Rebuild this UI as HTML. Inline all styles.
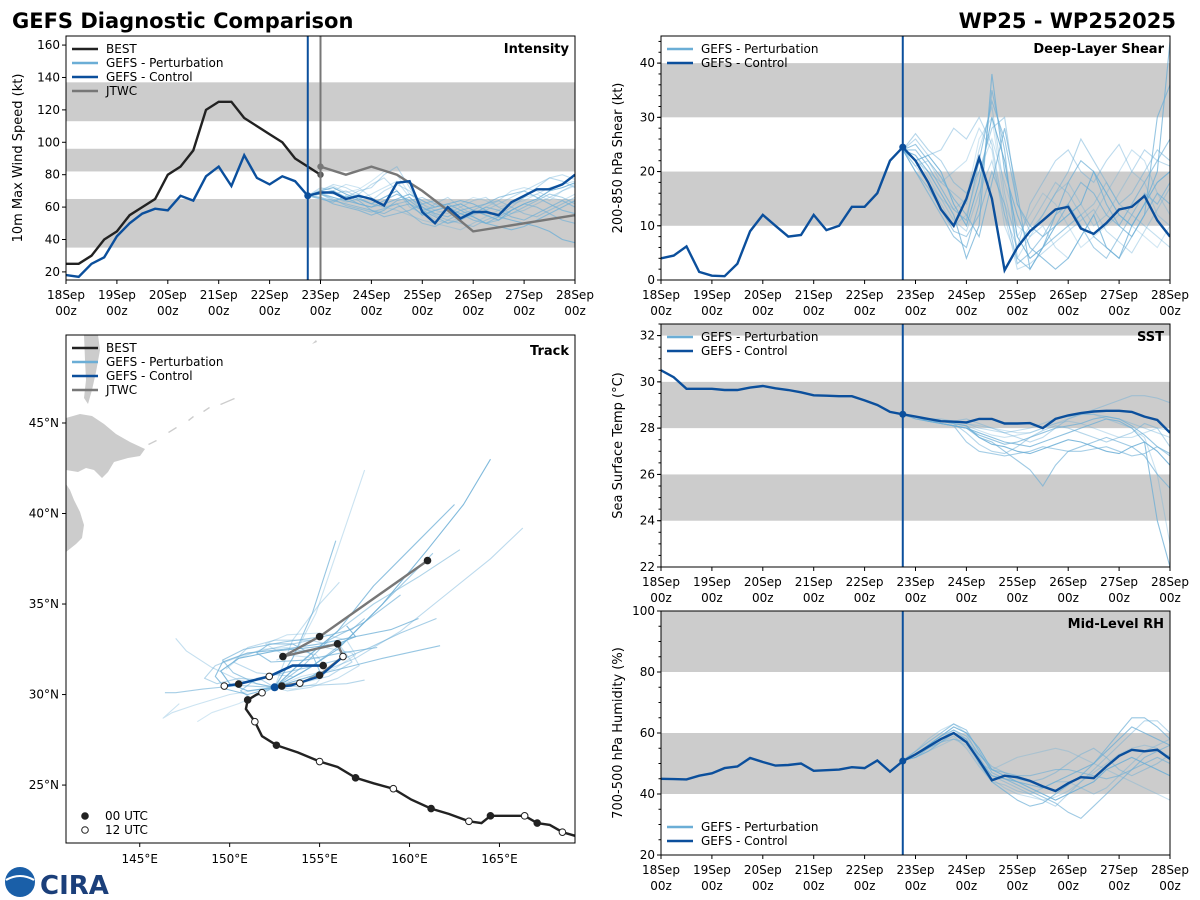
<!DOCTYPE html>
<html><head><meta charset="utf-8"><title>GEFS Diagnostic Comparison</title>
<style>
body{margin:0;background:#fff;font-family:"Liberation Sans",sans-serif;}
svg{display:block}
text{font-family:"DejaVu Sans","Liberation Sans",sans-serif;}
</style></head>
<body>
<svg id="chart" width="1200" height="900" xmlns="http://www.w3.org/2000/svg">
<text x="12" y="28" font-size="21" font-weight="bold" fill="#000">GEFS Diagnostic Comparison</text>
<text x="1176" y="28" font-size="21" font-weight="bold" fill="#000" text-anchor="end">WP25 - WP252025</text>
<g>
<circle cx="20" cy="882" r="15" fill="#1a5fa8"/>
<path d="M6 880 Q20 872 34 880" stroke="#fff" stroke-width="2" fill="none"/>
<text x="40" y="894" font-size="26" font-weight="bold" fill="#1b3f7a" font-family="Liberation Serif,serif">CIRA</text>
</g>
</svg>
<script>
// ---------- data ----------
const dayLabels=["18Sep","19Sep","20Sep","21Sep","22Sep","23Sep","24Sep","25Sep","26Sep","27Sep","28Sep"];
const bestIntensity=[25,25,30,40,45,55,60,65,80,85,95,120,125,125,115,110,105,100,90,85,80];
const controlIntensity=[18,17,25,29,42,50,56,59,58,67,64,79,85,73,92,78,74,79,76,67,69,69,65,67,65,61,75,76,57,50,60,53,57,57,55,63,67,71,71,74,80];
const jtwcTimes=[20,22,24,26,28,30,32,40];
const jtwcIntensity=[85,80,85,80,70,58,45,55];
const pertIntensity=[
[67,70,72,68,65,62,66,70,62,55,58,60,62,58,55,52,58,62,65,70,72,75],
[67,68,64,66,70,72,80,85,72,60,55,52,50,48,52,55,60,66,72,78,76,72],
[67,66,62,60,58,55,58,64,66,60,56,54,58,60,62,66,68,70,66,62,58,56],
[67,69,70,74,72,66,60,58,55,52,50,48,46,50,54,58,62,64,68,72,74,76],
[67,68,66,64,62,60,62,65,68,64,60,62,64,62,58,54,52,50,48,45,40,38],
[67,70,74,72,68,64,70,74,70,62,58,56,60,64,66,60,56,58,62,66,70,74],
[67,66,64,62,60,58,54,56,58,62,64,60,56,52,50,54,58,62,60,56,52,50],
[67,69,66,63,65,68,72,76,66,58,52,50,54,56,60,64,70,72,70,66,64,68],
[67,68,70,66,62,60,64,68,64,58,60,62,58,54,50,48,46,48,52,56,60,64],
[67,70,68,70,66,62,60,62,64,66,62,58,56,58,62,64,60,56,54,58,62,66],
[67,72,70,66,68,74,78,70,60,56,62,66,60,55,58,62,66,70,74,78,80,77],
[67,65,63,67,64,58,56,60,62,58,54,50,52,56,60,58,54,52,56,60,64,60],
[67,71,73,69,71,76,82,80,68,62,56,58,62,66,64,60,62,66,68,64,70,73],
[67,68,65,61,59,57,59,62,56,50,48,52,56,54,50,52,56,60,64,68,66,62]];
const controlShear=[4,4.5,6.2,1.5,0.8,0.7,3,9,12,10,8,8.3,12,9.2,10,13.5,13.5,16,22,24.5,22,18,13,10,15,22.5,15,1.8,6,9,11,13,13.5,9.5,8.5,10.5,13,13.5,15.5,11,8];
const pertShear=[
[24,22,23,20,14,10,18,30,22,8,4,6,10,12,14,20,16,12,10,14,18,20],
[24,26,23,24,28,26,30,25,12,6,14,18,22,24,20,18,22,25,20,24,22,21],
[24,20,16,12,8,6,14,35,24,4,2,6,8,10,12,8,6,4,8,12,16,14],
[24,22,18,14,10,12,20,26,18,10,8,12,16,18,14,10,12,16,20,18,12,10],
[24,23,20,16,12,4,10,38,20,12,6,4,2,4,8,12,6,4,10,14,20,44],
[24,21,22,18,16,14,24,32,16,6,10,14,18,16,12,14,18,14,12,10,8,6],
[24,20,17,13,9,8,12,20,14,3,5,8,12,14,10,6,4,8,12,16,14,18],
[24,22,20,18,20,22,28,24,10,4,8,10,6,4,8,12,16,20,24,22,16,12],
[24,25,22,19,15,12,8,18,28,16,2,6,12,18,22,20,14,10,8,12,30,36],
[24,27,24,22,18,16,20,28,30,14,9,12,16,20,26,22,18,14,16,20,24,22],
[24,21,18,15,11,9,16,22,12,2,3,5,7,9,11,13,9,7,5,9,13,17],
[24,24,21,17,13,11,22,33,26,14,10,8,10,14,18,16,12,10,14,18,22,26],
[24,23,19,15,13,15,26,30,14,8,12,16,14,10,6,8,10,12,10,8,6,10]];
const controlSST=[30.5,30.2,29.7,29.7,29.7,29.65,29.65,29.75,29.82,29.72,29.65,29.55,29.42,29.4,29.38,29.38,29.2,29.0,28.7,28.6,28.5,28.4,28.3,28.28,28.25,28.4,28.4,28.2,28.2,28.22,28.0,28.4,28.55,28.65,28.72,28.75,28.75,28.7,28.5,28.35,27.8];
const pertSST=[
[28.6,28.5,28.4,28.3,28.2,28.1,27.6,27.3,27.2,27.0,26.9,27.1,27.3,27.5,27.4,27.2,27.0,26.9,27.2,27.4,27.0,26.4],
[28.6,28.5,28.4,28.3,28.3,28.4,28.2,28.0,27.8,27.6,27.4,27.6,28.0,28.4,28.6,28.8,29.0,29.2,29.4,29.4,29.3,29.1],
[28.6,28.5,28.3,28.2,28.1,28.0,27.6,27.4,27.0,26.6,26.2,25.5,26.4,27.0,27.2,27.4,27.6,27.4,27.2,26.8,26.0,25.4],
[28.6,28.5,28.4,28.3,28.3,28.2,28.1,28.0,27.9,27.8,27.8,28.0,28.2,28.4,28.6,28.6,28.4,28.2,28.0,27.6,26.0,23.0],
[28.6,28.4,28.3,28.2,28.1,28.0,27.8,27.6,27.4,27.3,27.2,27.4,27.6,27.8,28.0,28.2,28.4,28.3,28.0,27.4,24.0,22.0],
[28.6,28.5,28.4,28.4,28.3,28.2,28.0,27.9,27.8,27.9,28.0,28.2,28.4,28.5,28.6,28.6,28.5,28.4,28.2,28.0,27.8,27.6],
[28.6,28.5,28.3,28.2,28.1,27.4,27.0,26.9,26.8,26.9,27.0,27.2,27.1,27.0,27.0,27.1,27.2,27.0,26.8,26.9,27.2,26.8],
[28.6,28.5,28.4,28.3,28.2,28.1,27.9,27.7,27.6,27.7,27.8,28.0,28.2,28.3,28.2,28.0,27.8,27.6,27.6,27.8,28.0,27.9],
[28.6,28.5,28.4,28.2,28.1,28.0,27.7,27.5,27.3,27.4,27.6,27.8,28.0,28.1,28.2,28.4,28.5,28.4,28.1,27.7,27.2,26.9],
[28.6,28.4,28.3,28.3,28.2,27.8,27.3,27.0,26.9,27.2,27.6,27.9,28.1,28.0,27.8,27.6,27.4,27.6,27.8,28.2,28.0,27.2]];
const controlRH=[45,44.9,44.8,46,46.8,48.5,49,51.8,50.5,49.3,49.5,50,47.6,47.8,48,48.8,48.5,51,47.3,50.8,53,55.5,58,60,57,51,44.5,46,45.5,44.3,42.5,41,43.5,45.5,45.2,49,52.5,54.5,54,54.5,51.5];
const pertRH=[
[51,53,56,59,62,60,55,48,46,44,42,40,38,40,42,44,48,50,52,50,48,46],
[51,52,55,58,61,58,52,46,44,42,40,38,36,40,44,48,52,56,60,64,64,60],
[51,54,57,60,63,61,54,47,45,43,41,39,37,34,32,36,40,44,48,52,54,56],
[51,52,54,56,58,56,50,48,50,52,53,54,55,54,52,50,48,46,44,42,40,38],
[51,53,56,58,60,57,51,46,45,44,43,42,44,46,48,50,54,58,62,60,58,56],
[51,52,55,57,59,55,49,44,43,41,40,42,44,44,42,40,42,46,50,54,56,58],
[51,53,56,59,61,59,53,48,47,46,46,47,48,48,47,46,45,46,48,50,52,50],
[51,54,58,61,63,60,52,45,42,40,39,38,39,41,44,47,50,53,55,56,55,52],
[51,52,54,57,60,58,50,44,41,38,36,37,40,43,46,50,55,60,65,65,62,58],
[51,53,55,57,58,57,53,49,47,45,44,45,47,50,53,55,52,48,46,48,50,53]];
// track data (lon, lat)
const bestTrackLon=[169.2,168.5,167.8,167.1,166.4,165.5,164.5,164,163.3,162.2,161.2,160.1,159.1,158,157,156,155,153.8,152.6,151.8,151.4,150.9,151.0,151.5,151.8];
const bestTrackLat=[22.2,22.4,22.8,22.9,23.3,23.3,23.3,22.9,23.0,23.4,23.7,24.2,24.8,25.1,25.4,26.0,26.3,26.8,27.2,27.7,28.5,29.2,29.7,30.0,30.1];
const bestMarkIdx=[1,3,4,6,8,10,12,14,16,18,20,22,24];
const bestMarkType=[12,0,12,0,12,0,12,0,12,0,12,0,12];
const jtwcTrackLon=[152.9,153.9,155.0,156.3,156.0,152.96,155.0,161.0];
const jtwcTrackLat=[30.47,30.63,31.07,32.1,32.8,32.1,33.2,37.4];
const jtwcMarkType=[0,12,0,12,0,0,0,0];
const controlTrackLon=[149.7,150.5,152.2,153.5,155.2];
const controlTrackLat=[30.47,30.58,31.0,31.6,31.6];
const controlTrack2Lon=[152.5,153.4,155.0,156.2];
const controlTrack2Lat=[30.4,30.5,31.0,32.0];
const pertTrackLon=[
[152.5,154,156,158.5,161,163,164.5],
[152.5,154.5,157,159.5,162,164.5,166.3],
[152.5,154.5,156.5,158.5,160,161.3],
[152.5,153.5,154.8,156,157.5],
[152.5,154,156,158,160.5,162.5],
[152.5,150.5,149,147.6,147.0],
[152.5,150.5,148.5,147.0,146.4],
[152.5,150,148,146.8,146.3,147.2],
[152.5,154.5,156.5,158.5,161.7],
[152.5,154.5,156.5,157.5],
[152.5,153.5,155,156.1],
[152.5,154,155.5,157.5,159.5],
[152.5,150.5,149,148.2],
[152.5,154.2,156,158,160.5,162.8],
[152.5,153.5,154.6,155.9],
[152.5,151,150,149.5,150.5,152.5,154.5,156,157,156.5],
[152.5,153.8,155.5,156.8,156.2,154.5,152.5,151,150.2,151.5,153.5],
[152.5,151.5,150.2,149.6,150.8,153,155.2,156.8,157.5],
[152.5,154,155.8,157,156.5,155,153.2,152,153,155],
[152.5,151,149.8,149.2,149.6,151,153,155,157,159,160.5],
[152.5,153.2,154.5,156,157.2,156.8,155.3,153.8,152.6],
[152.5,151.2,150.6,151.5,153,154.8,156.4,157.8,159.5,161.5],
[152.5,153.5,154.8,155.5,154.8,153.2,151.8,150.5,149.8],
[152.5,154,155,154.6,153.5,152.2,151.5,152.3,154.2,156.2,158.2],
[152.5,151.8,150.5,149.3,148.6,149.2,150.8,152.6,154.5]];
const pertTrackLat=[
[30.4,31.2,32.5,35,38,40.5,43.0],
[30.4,31.0,32,33.5,35.5,37.5,39.2],
[30.4,31.5,33,35,36.5,37.8],
[30.4,32,34.5,38,42.4],
[30.4,31.8,33.5,36,38.5,40.5],
[30.4,30.8,31.5,32.4,33.1],
[30.4,30.5,30.3,30.1,30.1],
[30.4,30.0,29.4,29.0,28.7,29.5],
[30.4,31.0,31.5,32.0,32.7],
[30.4,30.5,30.6,30.8],
[30.4,33.0,35,36.2],
[30.4,31.5,33,34,35.5],
[30.4,29.5,29,28.5],
[30.4,32,33.5,35,36.5,38],
[30.4,32,34.5,38.5],
[30.4,30.2,30.6,31.3,32.0,32.4,32.6,32.8,33.2,33.8],
[30.4,30.6,31.0,31.8,32.6,33.0,33.0,32.6,31.8,31.2,31.0],
[30.4,30.6,31.2,31.9,32.5,32.9,33.2,33.6,34.2],
[30.4,31.0,31.4,32.2,33.0,33.4,33.3,32.8,32.2,32.0],
[30.4,30.0,30.3,31.0,31.8,32.3,32.5,32.8,33.2,33.6,34.2],
[30.4,30.2,30.4,30.9,31.6,32.3,32.6,32.4,31.9],
[30.4,29.8,30.2,30.9,31.2,31.6,32.0,32.6,33.4,34.2],
[30.4,30.3,30.6,31.4,32.2,32.6,32.5,32.0,31.4],
[30.4,30.6,31.3,32.2,32.8,32.8,32.3,31.8,31.9,32.3,32.6],
[30.4,30.8,30.9,30.6,30.9,31.6,32.2,32.6,33.0]];

// ---------- helpers ----------
const NS="http://www.w3.org/2000/svg";
const svg=document.getElementById('chart');
function el(tag,attrs,parent){const e=document.createElementNS(NS,tag);for(const k in attrs)e.setAttribute(k,attrs[k]);(parent||svg).appendChild(e);return e;}
const CTRL="#0b4f9c",PERT="#6baed6",BESTC="#222",JTWCC="#777",BAND="#cccccc";
const pertOp=[0.85,0.45,0.65,0.35,0.75,0.4,0.6,0.35,0.7,0.5,0.4,0.65,0.3,0.55,0.7];

function timePanel(cfg){
  const {x0,x1,y0,y1,vmin,vmax}=cfg;
  const xs=i=>x0+i*(x1-x0)/40;
  const ys=v=>y1-(v-vmin)*(y1-y0)/(vmax-vmin);
  const g=el('g',{});
  
  
  const cid='clip-'+cfg.name;
  const cp=el('clipPath',{id:cid},g);el('rect',{x:x0,y:y0,width:x1-x0,height:y1-y0},cp);
  cfg.bands.forEach(b=>{const r=el('rect',{x:x0,y:ys(Math.min(b[1],vmax)),width:x1-x0,height:ys(b[0])-ys(Math.min(b[1],vmax)),fill:BAND},g);
    
    });
  const pg=el('g',{'clip-path':`url(#${cid})`},g);
  const path=(vals,start,times)=>vals.map((v,k)=>(k?'L':'M')+xs(times?times[k]:start+k).toFixed(1)+' '+ys(v).toFixed(1)).join(' ');
  cfg.pert.forEach((m,j)=>{const p=el('path',{d:path(m,19),stroke:PERT,'stroke-width':1.1,fill:'none',opacity:pertOp[j%pertOp.length]},pg);
    
    });
  if(cfg.jtwc){const p=el('path',{d:path(cfg.jtwc,0,jtwcTimes),stroke:JTWCC,'stroke-width':2.4,fill:'none'},pg);
    
    
    el('circle',{cx:xs(jtwcTimes[0]),cy:ys(cfg.jtwc[0]),r:3.2,fill:JTWCC},pg);}
  if(cfg.best){const p=el('path',{d:path(cfg.best,0),stroke:BESTC,'stroke-width':2.4,fill:'none'},pg);
    
    
    el('circle',{cx:xs(20),cy:ys(cfg.best[20]),r:3.2,fill:'#555'},pg);}
  const c=el('path',{d:path(cfg.control,0),stroke:CTRL,'stroke-width':2.4,fill:'none'},pg);
  
  
  el('circle',{cx:xs(19),cy:ys(cfg.control[19]),r:3.5,fill:CTRL},pg);
  el('line',{x1:xs(19),x2:xs(19),y1:y0,y2:y1,stroke:CTRL,'stroke-width':2},g);
  if(cfg.jtwc) el('line',{x1:xs(20),x2:xs(20),y1:y0,y2:y1,stroke:'#777','stroke-width':2},g);
  el('rect',{x:x0,y:y0,width:x1-x0,height:y1-y0,fill:'none',stroke:'#000','stroke-width':1},g);
  dayLabels.forEach((d,k)=>{const x=xs(k*4);
    el('line',{x1:x,x2:x,y1:y1,y2:y1+4,stroke:'#000'},g);
    const t=el('text',{x:x,y:y1+19,'font-size':12,'text-anchor':'middle'},g);t.textContent=d;
    
    
    const t2=el('text',{x:x,y:y1+35,'font-size':12,'text-anchor':'middle'},g);t2.textContent='00z';});
  if(cfg.minor){for(let v=vmin;v<=vmax+1e-6;v+=cfg.minor){const y=ys(v);el('line',{x1:x0-2.5,x2:x0,y1:y,y2:y,stroke:'#000'},g);}}
  for(let v=cfg.tick0;v<=vmax+1e-6;v+=cfg.step){const y=ys(v);
    el('line',{x1:x0-4,x2:x0,y1:y,y2:y,stroke:'#000'},g);
    const t=el('text',{x:x0-6,y:y+4,'font-size':12,'text-anchor':'end'},g);t.textContent=v;
    
    }
  const cy=(y0+y1)/2;
  const yt=el('text',{x:cfg.ytx,y:cy,'font-size':13,'text-anchor':'middle',transform:`rotate(-90 ${cfg.ytx} ${cy})`},g);yt.textContent=cfg.ytitle;
  
  
  const pt=el('text',{x:x1-6,y:y0+17,'font-size':13,'font-weight':'bold','text-anchor':'end'},g);pt.textContent=cfg.title;
  
  
  legend(g,x0+6,cfg.legY||y0+13,cfg.legend);
}
function legend(g,x,y,items){
  const lg=el('g',{},g);
  
  
  items.forEach((it,k)=>{const yy=y+k*14;
    el('line',{x1:x,x2:x+26,y1:yy,y2:yy,stroke:it[1],'stroke-width':2.6},lg);
    const t=el('text',{x:x+34,y:yy+4,'font-size':12},lg);t.textContent=it[0];
    
    });
}
const L4=[["BEST",BESTC],["GEFS - Perturbation",PERT],["GEFS - Control",CTRL],["JTWC",JTWCC]];
const L2=[["GEFS - Perturbation",PERT],["GEFS - Control",CTRL]];

timePanel({name:'intensity-panel',x0:66,x1:575,y0:36,y1:280,vmin:15,vmax:165.6,tick0:20,step:20,bands:[[35,65],[82,96],[113,137]],
  best:bestIntensity,control:controlIntensity,pert:pertIntensity,jtwc:jtwcIntensity,ytitle:'10m Max Wind Speed (kt)',ytx:22,title:'Intensity',legend:L4});
timePanel({name:'shear-panel',x0:661,x1:1170,y0:36,y1:280,vmin:0,vmax:45,tick0:0,step:10,minor:2,bands:[[10,20],[30,40]],
  control:controlShear,pert:pertShear,ytitle:'200-850 hPa Shear (kt)',ytx:622,title:'Deep-Layer Shear',legend:L2});
timePanel({name:'sst-panel',x0:661,x1:1170,y0:324,y1:567,vmin:22,vmax:32.5,tick0:22,step:2,minor:0.5,bands:[[24,26],[28,30],[32,33]],
  control:controlSST,pert:pertSST,ytitle:'Sea Surface Temp (°C)',ytx:622,title:'SST',legend:L2});
timePanel({name:'rh-panel',x0:661,x1:1170,y0:611,y1:855,vmin:20,vmax:100,tick0:20,step:20,minor:5,bands:[[40,60],[80,100]],
  control:controlRH,pert:pertRH,ytitle:'700-500 hPa Humidity (%)',ytx:622,title:'Mid-Level RH',legend:L2,legY:827});

// ---------- track map ----------
(function(){
  const x0=66,x1=575,y0=335,y1=843;
  const lonMin=140.9,lonMax=169.2,latMin=21.8,latMax=49.86;
  const lx=l=>x0+(l-lonMin)*(x1-x0)/(lonMax-lonMin);
  const ly=l=>y1-(l-latMin)*(y1-y0)/(latMax-latMin);
  const g=el('g',{});
  
  
  const cp=el('clipPath',{id:'clip-track'},g);el('rect',{x:x0,y:y0,width:x1-x0,height:y1-y0},cp);
  const pg=el('g',{'clip-path':'url(#clip-track)'},g);
  const land=el('g',{fill:BAND},pg);
  
  
  el('path',{d:'M84 335 L98 335 L100 350 L96 372 L92 390 L88 404 L84 398 L86 380 L85 360 Z'},land);
  el('path',{d:'M66 418 L80 414 L92 416 L104 424 L116 434 L130 442 L145 449 L140 456 L128 458 L114 462 L108 472 L102 478 L94 470 L86 468 L78 472 L66 470 Z'},land);
  el('path',{d:'M66 484 L70 490 L74 500 L80 512 L84 525 L82 538 L76 544 L66 552 Z'},land);
  el('path',{d:'M148 444 L156 440 L157 441 L149 445 Z M168 432 L176 427 L177 428 L169 433 Z M188 420 L193 416 L194 417 L189 421 Z M203 411 L209 407 L210 408 L204 412 Z M220 404 L234 398 L235 399 L221 405 Z M312 344 L316 340 L317 342 Z'},land);
  const tp=(lons,lats)=>lons.map((v,k)=>(k?'L':'M')+lx(v).toFixed(1)+' '+ly(lats[k]).toFixed(1)).join(' ');
  pertTrackLon.forEach((m,j)=>{const p=el('path',{d:tp(m,pertTrackLat[j]),stroke:PERT,'stroke-width':1.1,fill:'none','stroke-linejoin':'round',opacity:pertOp[j%pertOp.length]},pg);
    
    });
  const b=el('path',{d:tp(bestTrackLon,bestTrackLat),stroke:BESTC,'stroke-width':2.4,fill:'none'},pg);
  
  
  const jt=el('path',{d:tp(jtwcTrackLon,jtwcTrackLat),stroke:JTWCC,'stroke-width':2.4,fill:'none'},pg);
  
  
  const ct=el('path',{d:tp(controlTrackLon,controlTrackLat),stroke:CTRL,'stroke-width':2.6,fill:'none'},pg);
  
  
  el('path',{d:tp(controlTrack2Lon,controlTrack2Lat),stroke:CTRL,'stroke-width':2.2,fill:'none'},pg);
  el('circle',{cx:lx(controlTrack2Lon[0]),cy:ly(controlTrack2Lat[0]),r:4,fill:CTRL},pg);
  const mark=(lon,lat,t)=>{const c=el('circle',{cx:lx(lon),cy:ly(lat),r:3.3,fill:t===0?'#222':'#fff',stroke:'#222','stroke-width':1},pg);
    
    };
  bestMarkIdx.forEach((i,k)=>mark(bestTrackLon[i],bestTrackLat[i],bestMarkType[k]));
  jtwcTrackLon.forEach((v,k)=>mark(v,jtwcTrackLat[k],jtwcMarkType[k]));
  mark(controlTrackLon[0],controlTrackLat[0],12);mark(controlTrackLon[1],controlTrackLat[1],0);
  mark(controlTrackLon[2],controlTrackLat[2],12);mark(controlTrackLon[4],controlTrackLat[4],0);
  el('rect',{x:x0,y:y0,width:x1-x0,height:y1-y0,fill:'none',stroke:'#000'},g);
  [145,150,155,160,165].forEach(v=>{const x=lx(v);el('line',{x1:x,x2:x,y1:y1,y2:y1+4,stroke:'#000'},g);
    const t=el('text',{x:x,y:y1+20,'font-size':12,'text-anchor':'middle'},g);t.textContent=v+'°E';
    
    });
  [25,30,35,40,45].forEach(v=>{const y=ly(v);el('line',{x1:x0-4,x2:x0,y1:y,y2:y,stroke:'#000'},g);
    const t=el('text',{x:x0-7,y:y+4,'font-size':12,'text-anchor':'end'},g);t.textContent=v+'°N';
    
    });
  const pt=el('text',{x:x1-6,y:y0+20,'font-size':13,'font-weight':'bold','text-anchor':'end'},g);pt.textContent='Track';
  
  
  legend(g,72,y0+13,L4);
  const ml=el('g',{},g);
  
  
  el('circle',{cx:85,cy:816,r:3.3,fill:'#222',stroke:'#222'},ml);
  el('circle',{cx:85,cy:830,r:3.3,fill:'#fff',stroke:'#222'},ml);
  const a=el('text',{x:105,y:820,'font-size':12},ml);a.textContent='00 UTC';
  const c2=el('text',{x:105,y:834,'font-size':12},ml);c2.textContent='12 UTC';
})();
</script>
</body></html>
